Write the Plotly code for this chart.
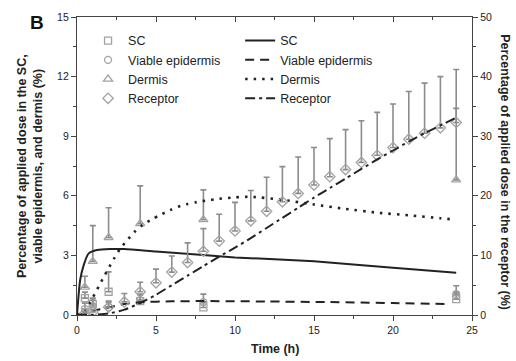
import plotly.graph_objects as go

# ---- measured data (mean, upper error) ----
t_tissue = [0.5, 1, 2, 4, 8, 24]
sc_mean = [0.85, 0.55, 1.17, 0.7, 0.38, 0.8]
sc_err = [0.3, 0.3, 1.0, 0.3, 0.3, 0.35]
ve_mean = [0.3, 0.45, 0.4, 0.75, 0.65, 1.05]
ve_err = [0.3, 0.3, 0.3, 0.3, 0.4, 0.42]
de_mean = [1.4, 2.7, 3.9, 4.6, 4.8, 6.8]
de_err = [0.55, 1.8, 1.5, 1.9, 1.5, 3.6]

t_rec = [0.5, 1, 2, 3, 4, 5, 6, 7, 8, 9, 10, 11, 12, 13, 14, 15, 16,
         17, 18, 19, 20, 21, 22, 23, 24]
rec_mean = [0.3, 0.5, 1.3, 2.2, 3.9, 5.4, 7.2, 8.8, 10.7, 12.4, 14.1, 15.8,
            17.4, 19.0, 20.4, 21.8, 23.2, 24.4, 25.6, 26.8, 28.1, 29.5,
            30.5, 31.4, 32.3]
rec_err = [0.3, 0.4, 0.8, 1.4, 1.6, 2.3, 2.7, 3.3, 3.8, 4.5, 4.8, 5.1,
           5.7, 5.9, 6.1, 6.3, 6.4, 6.7, 7.0, 7.2, 7.3, 8.0, 8.4, 8.6, 8.9]

# ---- model curves ----
t_sc_fit = [0, 0.2, 0.42, 0.74, 1.27, 2.1, 3, 5, 10, 15, 20, 24]
sc_fit = [0, 1.76, 2.5, 3.1, 3.27, 3.32, 3.32, 3.2, 2.9, 2.7, 2.38, 2.13]

t_ve_fit = [0, 0.5, 1, 2, 3, 4, 6, 8, 12, 16, 20, 23.6]
ve_fit = [0, 0.08, 0.2, 0.38, 0.55, 0.64, 0.69, 0.7, 0.68, 0.65, 0.6, 0.55]

t_de_fit = [0, 0.5, 0.8, 1.15, 1.45, 1.75, 2.05, 2.35, 2.7, 3.15, 3.65, 4.15,
            4.75, 5.25, 5.9, 6.4, 7, 7.5, 8.1, 9, 10, 11, 13, 15, 17,
            19, 21, 23, 23.8]
de_fit = [0, 0.2, 0.6, 1.1, 1.55, 2.0, 2.43, 2.85, 3.3, 3.74, 4.19, 4.53,
          4.82, 5.03, 5.28, 5.45, 5.59, 5.67, 5.75, 5.85, 5.92, 5.95, 5.8,
          5.56, 5.34, 5.15, 5.02, 4.87, 4.81]

t_rec_fit = [0, 1, 2, 3, 4, 5, 6, 7, 8, 9, 10, 11, 12, 13, 14, 15, 16, 17,
             18, 19, 20, 21, 22, 23, 23.9]
rec_fit = [0, 0.05, 0.25, 0.9, 2.0, 3.4, 5.0, 6.6, 8.2, 9.8, 11.3, 12.9,
           14.6, 16.3, 18.0, 19.7, 21.3, 22.9, 24.5, 26.1, 27.6, 29.1,
           30.5, 31.8, 33.0]

FONT = "Liberation Sans, Arial, sans-serif"
MK = "#a3a3a3"
EB = "#8c8c8c"
INK = "#222222"
AX = "#444444"

fig = go.Figure()


def points(x, y, err, sym, name, yaxis="y", size=7):
    fig.add_trace(go.Scatter(
        x=x, y=y, mode="markers", name=name, yaxis=yaxis, legend="legend",
        marker=dict(symbol=sym, size=size, color=MK,
                    line=dict(color=MK, width=1.3)),
        error_y=dict(type="data", array=err, arrayminus=[0] * len(err),
                     symmetric=False, color=EB, thickness=1.6, width=3),
    ))


points(t_tissue, sc_mean, sc_err, "square-open", "SC")
points(t_tissue, ve_mean, ve_err, "circle-open", "Viable epidermis")
points(t_tissue, de_mean, de_err, "triangle-up-open", "Dermis", size=8)
points(t_rec, rec_mean, rec_err, "diamond-open", "Receptor", yaxis="y2", size=8)


def curve(x, y, dash, name, yaxis="y", width=2):
    fig.add_trace(go.Scatter(
        x=x, y=y, mode="lines", name=name, yaxis=yaxis, legend="legend2",
        line=dict(color=INK, width=width, dash=dash, shape="spline",
                  smoothing=0.6),
    ))


curve(t_sc_fit, sc_fit, "solid", "SC")
curve(t_ve_fit, ve_fit, "9px,6px", "Viable epidermis")
curve(t_de_fit, de_fit, "2.5px,6px", "Dermis", width=2.6)
curve(t_rec_fit, rec_fit, "10px,4px,3px,4px", "Receptor", yaxis="y2")

axis_common = dict(
    showline=True, linecolor=AX, linewidth=1.3, showgrid=False,
    zeroline=False, ticks="outside", ticklen=5, tickwidth=1.2,
    tickcolor=AX, tickfont=dict(family=FONT, size=10.5, color=INK),
)

fig.update_layout(
    width=516, height=361,
    margin=dict(l=77, r=44, t=17, b=46),
    paper_bgcolor="white", plot_bgcolor="white",
    font=dict(family=FONT, color=INK),
    xaxis=dict(range=[0, 25], dtick=5, tick0=0,
               minor=dict(dtick=2.5, ticklen=3, ticks="outside",
                          tickcolor=AX),
               **axis_common),
    xaxis2=dict(range=[0, 25], overlaying="x", side="top", dtick=5,
                showticklabels=False, showline=True, linecolor=AX,
                linewidth=1.3, ticks="inside", ticklen=5, tickwidth=1.2,
                tickcolor=AX, showgrid=False, zeroline=False,
                minor=dict(dtick=2.5, ticklen=3, ticks="inside",
                           tickcolor=AX)),
    yaxis=dict(range=[0, 15], dtick=3, tick0=0,
               minor=dict(dtick=1.5, ticklen=3, ticks="outside",
                          tickcolor=AX),
               **axis_common),
    yaxis2=dict(range=[0, 50], dtick=10, tick0=0, overlaying="y",
                side="right",
                minor=dict(dtick=5, ticklen=3, ticks="outside",
                           tickcolor=AX),
                **axis_common),
    legend=dict(x=0.028, y=0.97, xanchor="left", yanchor="top",
                bgcolor="rgba(0,0,0,0)", tracegroupgap=0,
                itemwidth=30,
                font=dict(family=FONT, size=12.5, color=INK)),
    legend2=dict(x=0.413, y=0.97, xanchor="left", yanchor="top",
                 bgcolor="rgba(0,0,0,0)", tracegroupgap=0,
                 font=dict(family=FONT, size=12.5, color=INK)),
    showlegend=True,
)

# invisible trace to activate the mirrored top axis
fig.add_trace(go.Scatter(x=[0], y=[0], xaxis="x2", mode="markers",
                         marker=dict(opacity=0), showlegend=False,
                         hoverinfo="skip"))

title_font = dict(family=FONT, size=12.5, color=INK, weight="bold")
fig.add_annotation(text="Percentage of applied dose in the SC,<br>"
                        "viable epidermis, and dermis (%)",
                   xref="paper", yref="paper", x=-0.119, y=0.5,
                   xanchor="center", yanchor="middle", textangle=-90,
                   showarrow=False, font=title_font)
fig.add_annotation(text="Percentage of applied dose in the receptor (%)",
                   xref="paper", yref="paper", x=1.083, y=0.48,
                   xanchor="center", yanchor="middle", textangle=90,
                   showarrow=False, font=title_font)
fig.add_annotation(text="Time (h)", xref="paper", yref="paper",
                   x=0.5, y=-0.114, xanchor="center", yanchor="middle",
                   showarrow=False, font=title_font)
fig.add_annotation(text="B", xref="paper", yref="paper", x=-0.125, y=1.025,
                   xanchor="left", yanchor="top", showarrow=False,
                   font=dict(family=FONT, size=19, color="#111111",
                             weight="bold"))

fig.write_html("out.html")
